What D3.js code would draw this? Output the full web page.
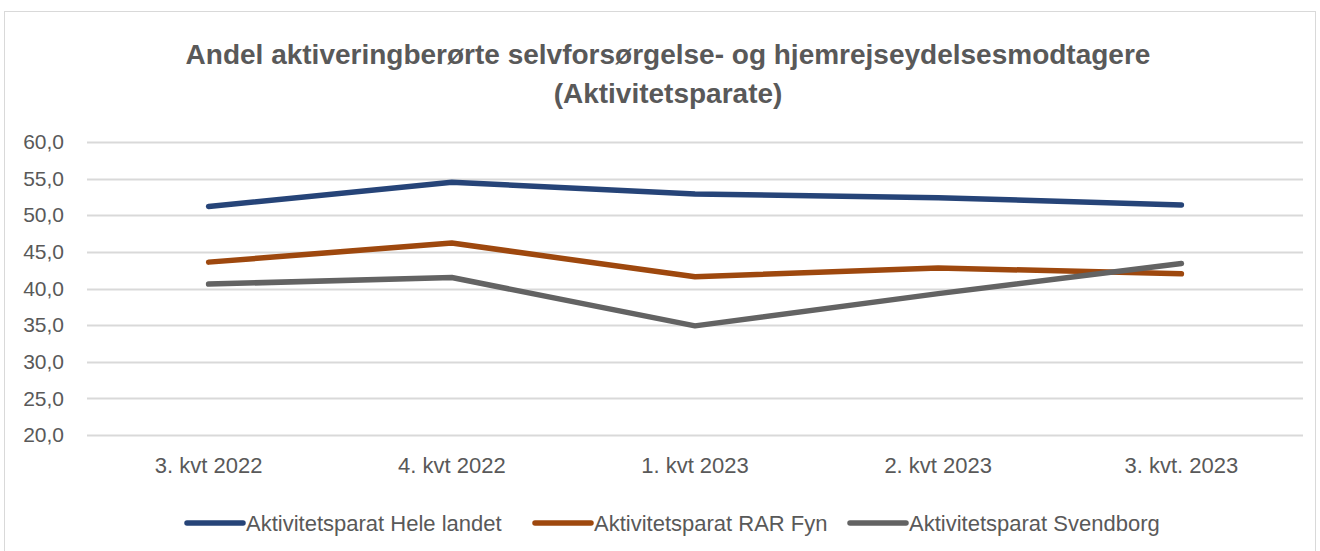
<!DOCTYPE html>
<html>
<head>
<meta charset="utf-8">
<script src="https://cdn.jsdelivr.net/npm/d3@7"></script>
<style>
  body { margin: 0; background: #fff; }
  text { font-family: "Liberation Sans", Arial, sans-serif; }
</style>
</head>
<body>
<div id="chart"></div>
<script>
// Chart data
var categories = ["3. kvt 2022", "4. kvt 2022", "1. kvt 2023", "2. kvt 2023", "3. kvt. 2023"];
var heleLandet = [51.2, 54.5, 52.9, 52.4, 51.4];
var rarFyn     = [43.6, 46.2, 41.6, 42.8, 42.0];
var svendborg  = [40.6, 41.5, 34.9, 39.3, 43.4];
var seriesNames = ["Aktivitetsparat Hele landet", "Aktivitetsparat RAR Fyn", "Aktivitetsparat Svendborg"];
var seriesColors = ["#264478", "#9E480E", "#636363"];
var yTicks = [20, 25, 30, 35, 40, 45, 50, 55, 60];

var W = 1320, H = 551;
var margin = { left: 87, right: 17, top: 142, bottom: 116 };

var svg = d3.select('#chart').append('svg')
	.attr('width', W)
	.attr('height', H);

// chart area border
svg.append('rect')
	.attr('x', 4.5).attr('y', 11.5)
	.attr('width', W - 9).attr('height', H)
	.attr('fill', '#fff')
	.attr('stroke', '#d9d9d9')
	.attr('stroke-width', 1);

// Title
var title = svg.append('text')
	.attr('text-anchor', 'middle')
	.attr('fill', '#595959')
	.style('font-size', '28px')
	.style('font-weight', 'bold');
title.append('tspan').attr('x', 668).attr('y', 64)
	.text('Andel aktiveringberørte selvforsørgelse- og hjemrejseydelsesmodtagere');
title.append('tspan').attr('x', 668).attr('y', 103)
	.text('(Aktivitetsparate)');

var x = d3.scaleBand()
	.domain(categories)
	.range([margin.left, W - margin.right]);

var y = d3.scaleLinear()
	.domain([20, 60])
	.range([H - margin.bottom, margin.top]);

// gridlines
svg.append('g')
	.selectAll('line')
	.data(yTicks)
	.enter()
	.append('line')
	.attr('x1', margin.left)
	.attr('x2', W - margin.right)
	.attr('y1', function(d) { return Math.round(y(d)) + 0.5; })
	.attr('y2', function(d) { return Math.round(y(d)) + 0.5; })
	.attr('stroke', '#d9d9d9')
	.attr('stroke-width', 2);

// y axis labels
var fmt = function(d) { return d3.format('.1f')(d).replace('.', ','); };
var yAxis = svg.append('g')
	.attr('transform', 'translate(' + (margin.left - 23) + ',0)')
	.call(d3.axisLeft(y).tickValues(yTicks).tickFormat(fmt).tickSize(0).tickPadding(0));
yAxis.select('.domain').remove();
yAxis.selectAll('text')
	.attr('fill', '#595959')
	.style('font-size', '21px')
	.style('font-family', '"Liberation Sans", Arial, sans-serif');

// x axis labels
var xAxis = svg.append('g')
	.attr('transform', 'translate(0,' + (H - margin.bottom) + ')')
	.call(d3.axisBottom(x).tickSize(0).tickPadding(22));
xAxis.select('.domain').remove();
xAxis.selectAll('text')
	.attr('fill', '#595959')
	.style('font-size', '22px')
	.style('font-family', '"Liberation Sans", Arial, sans-serif');

// lines
var allSeries = [heleLandet, rarFyn, svendborg];
var line = d3.line()
	.x(function(d, i) { return x(categories[i]) + x.bandwidth() / 2; })
	.y(function(d) { return y(d); });

svg.append('g')
	.selectAll('path')
	.data(allSeries)
	.enter()
	.append('path')
	.attr('d', line)
	.attr('fill', 'none')
	.attr('stroke', function(d, i) { return seriesColors[i]; })
	.attr('stroke-width', 5.5)
	.attr('stroke-linecap', 'round')
	.attr('stroke-linejoin', 'round');

// legend
var legendStarts = [187, 535, 850];
var legend = svg.append('g');
for (let i = 0; i < seriesNames.length; i++) {
	let g = legend.append('g').attr('transform', 'translate(' + legendStarts[i] + ',523)');
	g.append('line')
		.attr('x1', 0).attr('x2', 56)
		.attr('y1', 0).attr('y2', 0)
		.attr('stroke', seriesColors[i])
		.attr('stroke-width', 5.5)
		.attr('stroke-linecap', 'round');
	g.append('text')
		.attr('x', 59)
		.attr('y', 8)
		.attr('fill', '#595959')
		.style('font-size', '22px')
		.text(seriesNames[i]);
}
</script>
</body>
</html>
